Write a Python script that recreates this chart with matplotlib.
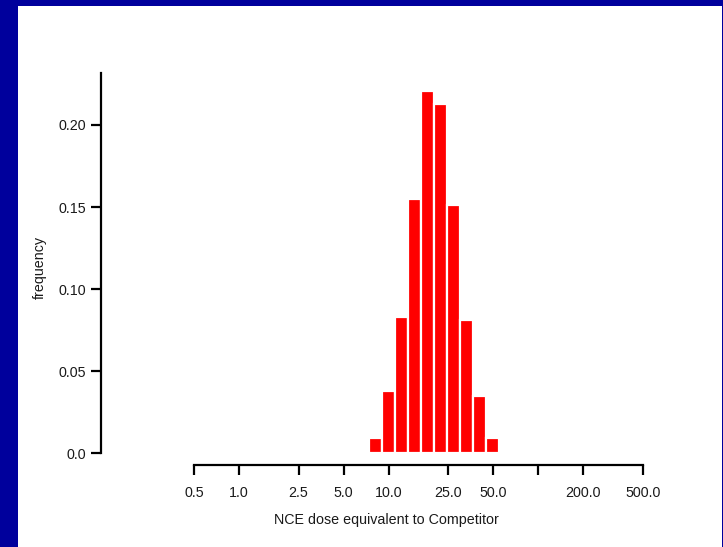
import matplotlib
matplotlib.use('Agg')
import matplotlib.pyplot as plt
from matplotlib.patches import Rectangle

# bin edges of the histogram (dose, log spaced)
bin_edges = [7.39, 9.03, 11.02, 13.46, 16.44, 20.09, 24.53, 29.96, 36.60, 44.70, 54.60]
freq = [0.009, 0.038, 0.083, 0.155, 0.221, 0.213, 0.151, 0.081, 0.035, 0.009]

xticks = [0.5, 1.0, 2.5, 5.0, 10.0, 25.0, 50.0, 100.0, 200.0, 500.0]
xticklabels = ['0.5', '1.0', '2.5', '5.0', '10.0', '25.0', '50.0', '', '200.0', '500.0']
yticks = [0.0, 0.05, 0.10, 0.15, 0.20]
yticklabels = ['0.0', '0.05', '0.10', '0.15', '0.20']

plt.rcParams['font.family'] = ['Liberation Sans', 'DejaVu Sans']
txt = '#1a1a1a'
fs = 10.3

fig = plt.figure(figsize=(7.23, 5.47), dpi=100)
fig.patch.set_facecolor('#00009C')
fig.add_artist(Rectangle((18 / 723, 0), 704 / 723, 541 / 547,
                         transform=fig.transFigure, facecolor='white',
                         edgecolor='none', zorder=0))

ax = fig.add_axes([101 / 723, 1 - 465 / 547, 571 / 723, 392 / 547])
ax.set_facecolor('none')
ax.set_xscale('log')

lefts = bin_edges[:-1]
widths = [b - a for a, b in zip(bin_edges[:-1], bin_edges[1:])]
ax.bar(lefts, freq, width=widths, align='edge', color='#FF0000',
       edgecolor='white', linewidth=1.6)

ax.set_xlim(0.1195, 783.6)
ax.set_ylim(-0.0073, 0.2317)

for s in ['top', 'right']:
    ax.spines[s].set_visible(False)
ax.spines['left'].set_bounds(0, 0.2317)
ax.spines['bottom'].set_bounds(0.5, 500)
for s in ['left', 'bottom']:
    ax.spines[s].set_linewidth(1.6)
    ax.spines[s].set_color('black')

ax.set_xticks(xticks)
ax.set_xticklabels(xticklabels)
ax.minorticks_off()
ax.set_yticks(yticks)
ax.set_yticklabels(yticklabels)
ax.tick_params(axis='both', length=7.5, width=1.6, color='black',
               labelsize=fs, labelcolor=txt)
ax.tick_params(axis='x', pad=7.5)
ax.tick_params(axis='y', pad=3.5)

fig.text(386.5 / 723, 1 - 520 / 547, 'NCE dose equivalent to Competitor',
         ha='center', va='center', fontsize=fs, color=txt)
fig.text(40 / 723, 1 - 268 / 547, 'frequency', rotation=90,
         ha='center', va='center', fontsize=fs, color=txt)

fig.savefig('out.png', dpi=100)
